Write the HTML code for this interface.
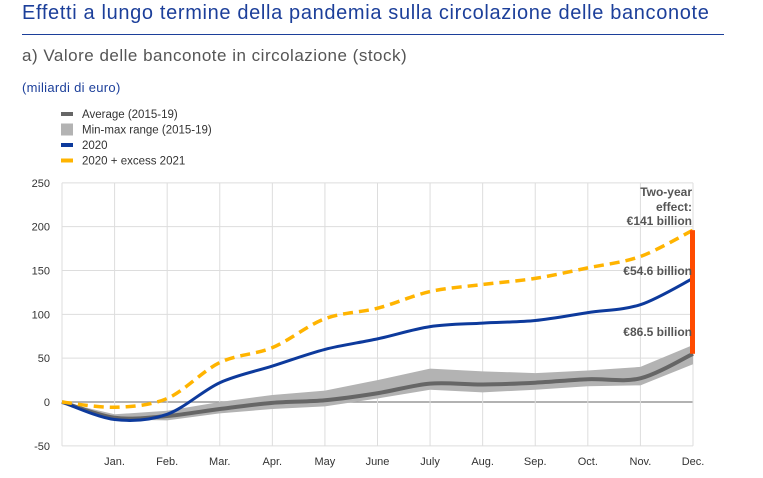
<!DOCTYPE html>
<html><head><meta charset="utf-8"><style>
body{margin:0;width:763px;height:478px;background:#fff;font-family:"Liberation Sans",sans-serif;overflow:hidden;position:relative}
.t{position:absolute;white-space:nowrap}
</style></head><body>
<div class="t" style="left:22px;top:2px;font-size:20px;letter-spacing:0.65px;color:#1c3f9a">Effetti a lungo termine della pandemia sulla circolazione delle banconote</div>
<div style="position:absolute;left:22px;top:34px;width:702px;height:1px;background:#1c3f9a"></div>
<div class="t" style="left:22px;top:46px;font-size:17px;letter-spacing:0.5px;color:#555">a) Valore delle banconote in circolazione (stock)</div>
<div class="t" style="left:22px;top:80px;font-size:13px;letter-spacing:0.3px;color:#1c3f9a">(miliardi di euro)</div>
<svg width="763" height="478" style="position:absolute;left:0;top:0" id="s"></svg>
<script>
const months=["","Jan.","Feb.","Mar.","Apr.","May","June","July","Aug.","Sep.","Oct.","Nov.","Dec."];
const yTicks=[250,200,150,100,50,0,-50];
const avg=[0,-18,-16,-8,-1,2,10,21,20,22,26,27,55];
const rangeMin=[0,-20,-21,-13,-8,-5,4,14,11,14,18,19,43];
const rangeMax=[0,-14,-10,0,8,13,25,38,35,33,36,40,65];
const s2020=[0,-20,-14,22,41,60,72,86,90,93,102,111,141];
const sExcess=[0,-6,4,45,62,95,107,126,134,141,153,166,196];
const legend=[["Average (2015-19)","#666",4],["Min-max range (2015-19)","#b3b3b3",12],["2020","#0d3a9c",4],["2020 + excess 2021","#ffb400",4]];
const NS="http://www.w3.org/2000/svg",svg=document.getElementById('s');
const x=i=>62+i*(693-62)/12, y=v=>402-v*(263/300);
function el(t,a,p){const e=document.createElementNS(NS,t);for(const k in a)e.setAttribute(k,a[k]);(p||svg).appendChild(e);return e;}
function pts(arr){return arr.map((v,i)=>[x(i),y(v)]);}
function curve(P){let d="M"+P[0][0]+","+P[0][1];for(let i=0;i<P.length-1;i++){const p0=P[Math.max(i-1,0)],p1=P[i],p2=P[i+1],p3=P[Math.min(i+2,P.length-1)];const t=0.16;d+=" C"+(p1[0]+(p2[0]-p0[0])*t)+","+(p1[1]+(p2[1]-p0[1])*t)+" "+(p2[0]-(p3[0]-p1[0])*t)+","+(p2[1]-(p3[1]-p1[1])*t)+" "+p2[0]+","+p2[1];}return d;}
yTicks.forEach(v=>{const g=el('line',{x1:62,x2:693,y1:y(v),y2:y(v),stroke:v===0?'#999':'#ddd','stroke-width':v===0?1.5:1});
const t=el('text',{x:50,y:y(v)+4,'text-anchor':'end','font-size':11,fill:'#333'});t.textContent=v;});
months.forEach((m,i)=>{const g=el('line',{x1:x(i),x2:x(i),y1:y(250),y2:y(-50),stroke:'#ddd'});
if(m){const t=el('text',{x:x(i),y:465,'text-anchor':'middle','font-size':11,fill:'#333'});t.textContent=m;}});
const up=pts(rangeMax),lo=pts(rangeMin).reverse();
const band=el('path',{d:"M"+up.map(p=>p.join(",")).join(" L")+" L"+lo.map(p=>p.join(",")).join(" L")+"Z",fill:'#b3b3b3'});

const la=el('path',{d:curve(pts(avg)),fill:'none',stroke:'#666','stroke-width':4});
const l20=el('path',{d:curve(pts(s2020)),fill:'none',stroke:'#0d3a9c','stroke-width':3});
const lex=el('path',{d:curve(pts(sExcess)),fill:'none',stroke:'#ffb400','stroke-width':3.5,'stroke-dasharray':'10,6'});
const last=12;const bar=el('rect',{x:x(last)-3,y:y(sExcess[last]),width:5,height:y(avg[last])-y(sExcess[last]),fill:'#ff4b00'});
[["Two-year",196],["effect:",211],["€141 billion",225],["€54.6 billion",275],["€86.5 billion",336]].forEach(a=>{const t=el('text',{x:692,y:a[1],'text-anchor':'end','font-size':12,'font-weight':'bold',fill:'#555'});t.textContent=a[0];});
legend.forEach((l,i)=>{const cy=114+i*15.5;const r=el('rect',{x:61,y:cy-l[2]/2,width:12,height:l[2],fill:l[1]});
const t=el('text',{x:82,y:cy+4,'font-size':11.5,fill:'#333'});t.textContent=l[0];});
</script>
</body></html>
